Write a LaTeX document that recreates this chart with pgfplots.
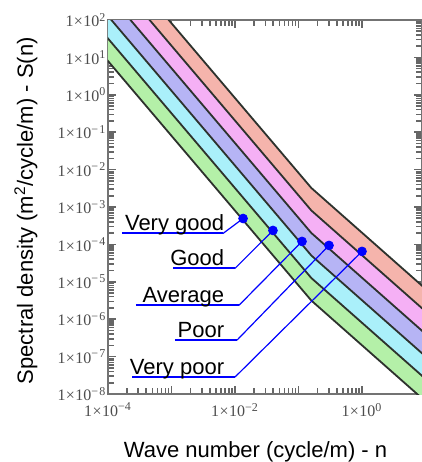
\documentclass[border=0pt]{standalone}
\usepackage{pgfplots}
\pgfplotsset{compat=1.18}
\usepackage{fontspec}
\setmainfont{Liberation Sans}
\newfontfamily\tickfont{Liberation Serif}
\usetikzlibrary{calc}

\definecolor{bandA}{RGB}{180,240,168}
\definecolor{bandB}{RGB}{170,240,250}
\definecolor{bandC}{RGB}{182,180,245}
\definecolor{bandD}{RGB}{245,176,245}
\definecolor{bandE}{RGB}{245,180,172}
\definecolor{curve}{RGB}{45,50,45}

% tick label: 1x10^k
\newcommand\tl[1]{1\kern0.2pt×\kern0.2pt10\textsuperscript{#1}}
\newcommand\lab{\fontsize{11}{13}\selectfont}

\begin{document}
\begin{tikzpicture}
\begin{axis}[
  scale only axis, width=157pt, height=187pt,
  xmode=log, ymode=log,
  xmin=1e-4, xmax=8.8, ymin=1e-8, ymax=1e2,
  axis line style={black!55, line width=1pt},
  tick align=inside, major tick length=4pt,
  tick style={black!60, line width=0.8pt},
  minor tick num=0,
  xtick={1e-4,1e-3,1e-2,1e-1,1},
  xticklabels={\tl{−4},,\tl{−2},,\tl{0}},
  ytick={1e-8,1e-7,1e-6,1e-5,1e-4,1e-3,1e-2,1e-1,1,10,100},
  yticklabels={\tl{−\kern0.6pt8},\tl{−\kern0.6pt7},\tl{−\kern0.6pt6},\tl{−\kern0.6pt5},\tl{−\kern0.6pt4},\tl{−\kern0.6pt3},\tl{−\kern0.6pt2},\tl{−\kern0.6pt1},\tl{0},\tl{1},\tl{2}},
  tick label style={font=\tickfont\fontsize{8}{9}\selectfont, text=black!70},
  yticklabel style={inner sep=0.6pt},
  xticklabel style={yshift=-1pt},
  xlabel={Wave number (cycle/m) - n},
  ylabel={Spectral density (m\textsuperscript{2}/cycle/m) - S(n)},
  label style={font=\lab},
  xlabel style={at={(axis description cs:0.47,0)}, anchor=base, yshift=-31.5pt},
  ylabel style={at={(axis description cs:0,0.49)}, anchor=base, yshift=37.5pt},
]
% bands between class boundaries (w1=2 below n0=1/2pi, w2=1.5 above)
\addplot[fill=bandA, draw=none] coordinates {(1e-5,800) (0.15915,3.158e-6) (100,2.005e-10) (100,8.02e-10) (0.15915,1.263e-5) (1e-5,3200)} -- cycle;
\addplot[fill=bandB, draw=none] coordinates {(1e-5,3200) (0.15915,1.263e-5) (100,8.02e-10) (100,3.208e-9) (0.15915,5.053e-5) (1e-5,12800)} -- cycle;
\addplot[fill=bandC, draw=none] coordinates {(1e-5,12800) (0.15915,5.053e-5) (100,3.208e-9) (100,1.283e-8) (0.15915,2.021e-4) (1e-5,51200)} -- cycle;
\addplot[fill=bandD, draw=none] coordinates {(1e-5,51200) (0.15915,2.021e-4) (100,1.283e-8) (100,5.133e-8) (0.15915,8.085e-4) (1e-5,204800)} -- cycle;
\addplot[fill=bandE, draw=none] coordinates {(1e-5,204800) (0.15915,8.085e-4) (100,5.133e-8) (100,2.053e-7) (0.15915,3.234e-3) (1e-5,819200)} -- cycle;

% boundary lines
\addplot[curve, line width=0.9pt] coordinates {(1e-5,800) (0.15915,3.158e-6) (100,2.005e-10)};
\addplot[curve, line width=0.9pt] coordinates {(1e-5,3200) (0.15915,1.263e-5) (100,8.02e-10)};
\addplot[curve, line width=0.9pt] coordinates {(1e-5,12800) (0.15915,5.053e-5) (100,3.208e-9)};
\addplot[curve, line width=0.9pt] coordinates {(1e-5,51200) (0.15915,2.021e-4) (100,1.283e-8)};
\addplot[curve, line width=0.9pt] coordinates {(1e-5,204800) (0.15915,8.085e-4) (100,5.133e-8)};
\addplot[curve, line width=0.9pt] coordinates {(1e-5,819200) (0.15915,3.234e-3) (100,2.053e-7)};

% leader lines
\addplot[blue, line width=1pt] coordinates {(1.66e-4,1.96e-4) (6.47e-3,1.96e-4)};
\addplot[blue, line width=0.6pt] coordinates {(6.47e-3,1.96e-4) (1.34e-2,4.93e-4)};
\addplot[blue, line width=1pt] coordinates {(1.057e-3,2.29e-5) (1.0e-2,2.29e-5)};
\addplot[blue, line width=0.6pt] coordinates {(1.0e-2,2.29e-5) (3.96e-2,2.36e-4)};
\addplot[blue, line width=1pt] coordinates {(2.76e-4,2.36e-6) (1.156e-2,2.36e-6)};
\addplot[blue, line width=0.6pt] coordinates {(1.156e-2,2.36e-6) (0.1135,1.20e-4)};
\addplot[blue, line width=1pt] coordinates {(1.135e-3,2.75e-7) (1.074e-2,2.75e-7)};
\addplot[blue, line width=0.6pt] coordinates {(1.074e-2,2.75e-7) (0.302,9.4e-5)};
\addplot[blue, line width=1pt] coordinates {(2.39e-4,2.84e-8) (1.0e-2,2.84e-8)};
\addplot[blue, line width=0.6pt] coordinates {(1.0e-2,2.84e-8) (1.0,6.5e-5)};

% points
\addplot[only marks, mark=*, mark size=2.2pt, blue] coordinates {(1.34e-2,4.93e-4) (3.96e-2,2.36e-4) (0.1135,1.20e-4) (0.302,9.4e-5) (1.0,6.5e-5)};

\node[anchor=base east, inner sep=0pt, yshift=1.4pt, font=\lab] at (axis cs:6.84e-3,1.96e-4) {Very good};
\node[anchor=base east, inner sep=0pt, yshift=1.4pt, font=\lab] at (axis cs:6.84e-3,2.29e-5) {Good};
\node[anchor=base east, inner sep=0pt, yshift=1.4pt, font=\lab] at (axis cs:6.84e-3,2.36e-6) {Average};
\node[anchor=base east, inner sep=0pt, yshift=1.4pt, font=\lab] at (axis cs:6.84e-3,2.75e-7) {Poor};
\node[anchor=base east, inner sep=0pt, yshift=1.4pt, font=\lab] at (axis cs:6.84e-3,2.84e-8) {Very poor};
\end{axis}
\pgfresetboundingbox
\path[use as bounding box] ($(current axis.south west)+(-54pt,-34pt)$) rectangle ($(current axis.north east)+(0pt,10pt)$);
\end{tikzpicture}
\end{document}
